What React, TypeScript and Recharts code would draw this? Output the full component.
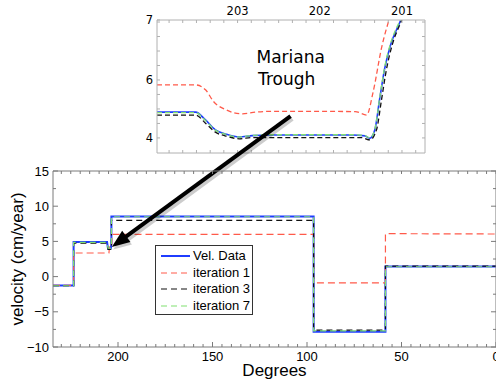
import { LineChart, Line, XAxis, YAxis, Legend, ReferenceLine, Label } from 'recharts'

const FONT = '"Liberation Sans", Arial, Helvetica, sans-serif'
const INSET_FONT = '"DejaVu Sans", "Liberation Sans", sans-serif'

// main panel: velocity profile along the track (degrees, read right to left)
const velPoints = [
  { deg: 234.4, v: -1.25 }, { deg: 223.5, v: -1.25 }, { deg: 223.5, v: 4.9 }, { deg: 205.8, v: 4.9 },
  { deg: 205.3, v: 4.0 }, { deg: 203.8, v: 4.0 }, { deg: 203.5, v: 4.6 }, { deg: 203.5, v: 8.55 },
  { deg: 96.5, v: 8.55 }, { deg: 96.5, v: -7.85 }, { deg: 58.5, v: -7.85 }, { deg: 58.5, v: 1.45 },
  { deg: 0, v: 1.45 },
]
const iter1Points = [
  { deg: 234.4, v: -1.25 }, { deg: 223.5, v: -1.25 }, { deg: 223.5, v: 3.35 }, { deg: 204.8, v: 3.35 },
  { deg: 204.5, v: 4.3 }, { deg: 203.3, v: 4.3 }, { deg: 203.3, v: 6.0 }, { deg: 96.5, v: 6.0 },
  { deg: 96.5, v: -0.9 }, { deg: 58.5, v: -0.9 }, { deg: 58.5, v: 6.1 }, { deg: 0, v: 6.05 },
]
const iter3Points = [
  { deg: 234.4, v: -1.3 }, { deg: 223.5, v: -1.3 }, { deg: 223.5, v: 4.75 }, { deg: 205.8, v: 4.75 },
  { deg: 205.3, v: 3.85 }, { deg: 203.8, v: 3.85 }, { deg: 203.5, v: 4.3 }, { deg: 203.5, v: 8.0 },
  { deg: 96.5, v: 8.0 }, { deg: 96.5, v: -7.6 }, { deg: 58.5, v: -7.6 }, { deg: 58.5, v: 1.5 },
  { deg: 0, v: 1.5 },
]
const iter7Points = [
  { deg: 234.4, v: -1.3 }, { deg: 223.5, v: -1.3 }, { deg: 223.5, v: 4.85 }, { deg: 205.8, v: 4.85 },
  { deg: 205.3, v: 4.05 }, { deg: 203.8, v: 4.05 }, { deg: 203.5, v: 4.5 }, { deg: 203.5, v: 8.5 },
  { deg: 96.5, v: 8.5 }, { deg: 96.5, v: -7.7 }, { deg: 58.5, v: -7.7 }, { deg: 58.5, v: 1.4 },
  { deg: 0, v: 1.4 },
]

// inset: Mariana Trough close-up
const insetVel = [
  { deg: 203.98, v: 4.89 }, { deg: 203.51, v: 4.89 }, { deg: 203.39, v: 4.62 }, { deg: 203.27, v: 4.28 },
  { deg: 203.14, v: 4.13 }, { deg: 202.98, v: 4.03 }, { deg: 202.82, v: 4.08 }, { deg: 202.6, v: 4.1 },
  { deg: 201.6, v: 4.1 }, { deg: 201.45, v: 4.07 }, { deg: 201.39, v: 3.99 }, { deg: 201.33, v: 4.28 },
  { deg: 201.27, v: 5.37 }, { deg: 201.21, v: 6.4 }, { deg: 201.14, v: 7.2 }, { deg: 201.04, v: 7.9 },
  { deg: 200.98, v: 8.3 },
]
const insetIter1 = [
  { deg: 203.98, v: 5.83 }, { deg: 203.51, v: 5.83 }, { deg: 203.39, v: 5.66 }, { deg: 203.29, v: 5.25 },
  { deg: 203.14, v: 4.97 }, { deg: 202.94, v: 4.83 }, { deg: 202.78, v: 4.89 }, { deg: 202.6, v: 4.92 },
  { deg: 201.57, v: 4.91 }, { deg: 201.43, v: 4.79 }, { deg: 201.35, v: 5.6 }, { deg: 201.25, v: 7.09 },
  { deg: 201.14, v: 8.24 }, { deg: 201.1, v: 8.6 },
]
const insetIter3 = [
  { deg: 203.98, v: 4.79 }, { deg: 203.51, v: 4.79 }, { deg: 203.39, v: 4.51 }, { deg: 203.27, v: 4.2 },
  { deg: 203.12, v: 4.05 }, { deg: 202.98, v: 3.97 }, { deg: 202.82, v: 4.01 }, { deg: 202.6, v: 4.01 },
  { deg: 201.49, v: 4.01 }, { deg: 201.39, v: 3.93 }, { deg: 201.31, v: 4.28 }, { deg: 201.25, v: 5.3 },
  { deg: 201.19, v: 6.35 }, { deg: 201.12, v: 7.2 }, { deg: 201.02, v: 7.95 }, { deg: 200.97, v: 8.3 },
]
const insetIter7 = [
  { deg: 203.98, v: 4.87 }, { deg: 203.51, v: 4.87 }, { deg: 203.39, v: 4.6 }, { deg: 203.27, v: 4.27 },
  { deg: 203.14, v: 4.12 }, { deg: 202.98, v: 4.03 }, { deg: 202.82, v: 4.09 }, { deg: 202.6, v: 4.11 },
  { deg: 201.6, v: 4.11 }, { deg: 201.45, v: 4.08 }, { deg: 201.39, v: 4.0 }, { deg: 201.33, v: 4.3 },
  { deg: 201.27, v: 5.4 }, { deg: 201.21, v: 6.45 }, { deg: 201.14, v: 7.25 }, { deg: 201.04, v: 7.95 },
  { deg: 200.98, v: 8.25 },
]

// ticks
const mainXLabels = [0, 50, 100, 150, 200]
const mainXTicks = [
  0, 5, 10, 15, 20, 25, 30, 35, 40, 45, 50, 55, 60, 65, 70, 75, 80, 85, 90, 95, 100, 105, 110, 115,
  120, 125, 130, 135, 140, 145, 150, 155, 160, 165, 170, 175, 180, 185, 190, 195, 200, 205, 210, 215,
  220, 225, 230,
]
const mainYLabels = [-10, -5, 0, 5, 10, 15]
const mainYTicks = [-10, -7.5, -5, -2.5, 0, 2.5, 5, 7.5, 10, 12.5, 15]
const insetXLabels = [203, 202, 201]
const insetXTicks = [
  200.833, 201, 201.167, 201.333, 201.5, 201.667, 201.833, 202, 202.167, 202.333, 202.5, 202.667,
  202.833, 203, 203.167, 203.333, 203.5, 203.667, 203.833,
]
const insetYLabels = [
  { v: 4, text: '4' },
  { v: 6, text: '6' },
  { v: 8.07, text: '7' },
]
const insetYTicks = [4, 4.5, 5, 5.5, 6, 6.5, 7, 7.5, 8]

const series = [
  { name: 'Vel. Data', color: '#1f3cff', width: 2, insetWidth: 1.6, dash: undefined, main: velPoints, inset: insetVel },
  { name: 'iteration 1', color: '#ff5a4a', width: 1.2, insetWidth: 1.3, dash: '7 4', main: iter1Points, inset: insetIter1 },
  { name: 'iteration 3', color: '#111111', width: 1.2, insetWidth: 1.3, dash: '6 4', main: iter3Points, inset: insetIter3 },
  { name: 'iteration 7', color: '#80e070', width: 1.2, insetWidth: 1.3, dash: '6 4', main: iter7Points, inset: insetIter7 },
]

const MAIN_FRAME = '#7a7a7a'
const INSET_FRAME = '#b0b0b0'

function FrameTick(props: any) {
  const { x, y, payload, side, labels, color, fontSize, fontFamily, majorLen, minorLen, gap, fmt } = props
  const v = payload.value
  const lab = labels.find((l: number) => Math.abs(l - v) < 1e-3)
  const len = lab !== undefined ? majorLen : minorLen
  let tick = null
  let text = null
  const txt = lab !== undefined ? fmt(lab) : null
  if (side === 'bottom') {
    tick = <line x1={x} x2={x} y1={y} y2={y - len} stroke={color} />
    if (txt !== null) text = <text x={x} y={y + gap} textAnchor="middle">{txt}</text>
  } else if (side === 'top') {
    tick = <line x1={x} x2={x} y1={y} y2={y + len} stroke={color} />
    if (txt !== null) text = <text x={x} y={y - gap} textAnchor="middle">{txt}</text>
  } else if (side === 'left') {
    tick = <line x1={x} x2={x + len} y1={y} y2={y} stroke={color} />
    if (txt !== null) text = <text x={x - gap} y={y + fontSize * 0.36} textAnchor="end">{txt}</text>
  } else {
    tick = <line x1={x} x2={x - len} y1={y} y2={y} stroke={color} />
  }
  return (
    <g fontFamily={fontFamily} fontSize={fontSize} fill="#000">
      {tick}
      {text}
    </g>
  )
}

function ArrowShape(props: any) {
  const { x1, y1, x2, y2 } = props
  const dx = x2 - x1
  const dy = y2 - y1
  const L = Math.hypot(dx, dy)
  const ux = dx / L
  const uy = dy / L
  const head = 18
  const half = 7
  const bx = x2 - ux * head
  const by = y2 - uy * head
  const pts = (ox: number, oy: number) =>
    `${x2 + ox},${y2 + oy} ${bx - uy * half + ox},${by + ux * half + oy} ${bx + uy * half + ox},${by - ux * half + oy}`
  return (
    <g>
      <line x1={x1 + 1.5} y1={y1 + 2.5} x2={bx + 1.5} y2={by + 2.5} stroke="rgba(0,0,0,0.2)" strokeWidth={5} />
      <polygon points={pts(1.5, 2.5)} fill="rgba(0,0,0,0.2)" />
      <line x1={x1} y1={y1} x2={bx + ux * 3} y2={by + uy * 3} stroke="#000" strokeWidth={4} />
      <polygon points={pts(0, 0)} fill="#000" />
    </g>
  )
}

function LegendBox() {
  return (
    <div
      style={{
        width: 98,
        height: 70,
        boxSizing: 'border-box',
        border: '1px solid #333',
        background: '#fff',
        paddingTop: 2,
        fontFamily: FONT,
        fontSize: 13,
        color: '#000',
      }}
    >
      {series.map(s => (
        <div key={s.name} style={{ display: 'flex', alignItems: 'center', height: 16.6, paddingLeft: 5 }}>
          <svg width={29} height={4} style={{ display: 'block' }}>
            <line x1={0} x2={29} y1={2} y2={2} stroke={s.color} strokeWidth={s.width} strokeDasharray={s.dash ? '6 4' : undefined} />
          </svg>
          <span style={{ marginLeft: 3, lineHeight: '14px', whiteSpace: 'nowrap' }}>{s.name}</span>
        </div>
      ))}
    </div>
  )
}

const mainTick = (side: string, labels: number[]) => (
  <FrameTick
    side={side}
    labels={labels}
    color={MAIN_FRAME}
    fontSize={13}
    fontFamily={FONT}
    majorLen={5}
    minorLen={3}
    gap={side === 'bottom' ? 14 : 4}
    fmt={(v: number) => (v < 0 ? `\u2212${Math.abs(v)}` : `${v}`)}
  />
)

const insetTick = (side: string, labels: number[], fmt: (v: number) => string) => (
  <FrameTick
    side={side}
    labels={labels}
    color={INSET_FRAME}
    fontSize={11.5}
    fontFamily={INSET_FONT}
    majorLen={3}
    minorLen={3}
    gap={side === 'top' ? 5 : 4}
    fmt={fmt}
  />
)

export default function App() {
  const insetYFmt = (v: number) => insetYLabels.find(l => Math.abs(l.v - v) < 1e-3)?.text ?? ''
  return (
    <div style={{ position: 'absolute', left: 0, top: 0, width: 496, height: 382, background: '#fff', overflow: 'hidden' }}>
      {/* inset */}
      <div style={{ position: 'absolute', left: 0, top: 0 }}>
        <LineChart width={496} height={382} margin={{ top: 19, right: 70, bottom: 228, left: 156 }}>
          <XAxis
            xAxisId="b"
            type="number"
            dataKey="deg"
            domain={[200.72, 203.98]}
            reversed
            allowDataOverflow
            ticks={insetXTicks}
            interval={0}
            height={1}
            axisLine={{ stroke: INSET_FRAME }}
            tickLine={false}
            tickSize={0}
            tickMargin={0}
            tick={insetTick('bottom', [], () => '')}
          />
          <XAxis
            xAxisId="t"
            orientation="top"
            type="number"
            dataKey="deg"
            domain={[200.72, 203.98]}
            reversed
            allowDataOverflow
            ticks={[...insetXTicks]}
            interval={0}
            height={1}
            axisLine={{ stroke: INSET_FRAME }}
            tickLine={false}
            tickSize={0}
            tickMargin={0}
            tick={insetTick('top', insetXLabels, v => `${Math.round(v)}`)}
          />
          <YAxis
            yAxisId="l"
            type="number"
            domain={[3.48, 8.07]}
            allowDataOverflow
            ticks={[...insetYTicks, 8.07]}
            interval={0}
            width={1}
            axisLine={{ stroke: INSET_FRAME }}
            tickLine={false}
            tickSize={0}
            tickMargin={0}
            tick={insetTick('left', insetYLabels.map(l => l.v), insetYFmt)}
          />
          <YAxis
            yAxisId="r"
            orientation="right"
            type="number"
            domain={[3.48, 8.07]}
            allowDataOverflow
            ticks={insetYTicks}
            interval={0}
            width={1}
            axisLine={{ stroke: INSET_FRAME }}
            tickLine={false}
            tickSize={0}
            tickMargin={0}
            tick={insetTick('right', [], () => '')}
          />
          {series.map(s => (
            <Line
              key={s.name}
              xAxisId="b"
              yAxisId="l"
              data={s.inset}
              dataKey="v"
              type="monotone"
              stroke={s.color}
              strokeWidth={s.insetWidth}
              strokeDasharray={s.dash ? '5 3' : undefined}
              dot={false}
              activeDot={false}
              isAnimationActive={false}
            />
          ))}
          <text x={256.5} y={62.5} fontFamily={INSET_FONT} fontSize={17} fill="#000">Mariana</text>
          <text x={258} y={85} fontFamily={INSET_FONT} fontSize={17} fill="#000">Trough</text>
        </LineChart>
      </div>

      {/* main panel */}
      <div style={{ position: 'absolute', left: 0, top: 0 }}>
        <LineChart width={497} height={382} margin={{ top: 170, right: 0, bottom: 0, left: 23 }}>
          <XAxis
            xAxisId="b"
            type="number"
            dataKey="deg"
            domain={[0, 234.4]}
            reversed
            allowDataOverflow
            ticks={mainXTicks}
            interval={0}
            height={35}
            axisLine={{ stroke: MAIN_FRAME }}
            tickLine={false}
            tickSize={0}
            tickMargin={0}
            tick={mainTick('bottom', mainXLabels)}
          >
            <Label value="Degrees" position="insideBottom" offset={6} style={{ fontFamily: FONT, fontSize: 17, fill: '#000' }} />
          </XAxis>
          <XAxis
            xAxisId="t"
            orientation="top"
            type="number"
            dataKey="deg"
            domain={[0, 234.4]}
            reversed
            allowDataOverflow
            ticks={[...mainXTicks]}
            interval={0}
            height={1}
            axisLine={{ stroke: MAIN_FRAME }}
            tickLine={false}
            tickSize={0}
            tickMargin={0}
            tick={mainTick('top', [])}
          />
          <YAxis
            yAxisId="l"
            type="number"
            domain={[-10, 15]}
            allowDataOverflow
            ticks={mainYTicks}
            interval={0}
            width={30}
            axisLine={{ stroke: MAIN_FRAME }}
            tickLine={false}
            tickSize={0}
            tickMargin={0}
            tick={mainTick('left', mainYLabels)}
          >
            <Label
              value="velocity (cm/year)"
              angle={-90}
              position="center"
              dx={-21}
              style={{ fontFamily: FONT, fontSize: 17, fill: '#000', textAnchor: 'middle' }}
            />
          </YAxis>
          <YAxis
            yAxisId="r"
            orientation="right"
            type="number"
            domain={[-10, 15]}
            allowDataOverflow
            ticks={[...mainYTicks]}
            interval={0}
            width={1}
            axisLine={{ stroke: MAIN_FRAME }}
            tickLine={false}
            tickSize={0}
            tickMargin={0}
            tick={mainTick('right', mainYLabels)}
          />
          {series.map(s => (
            <Line
              key={s.name}
              name={s.name}
              xAxisId="b"
              yAxisId="l"
              data={s.main}
              dataKey="v"
              type="linear"
              stroke={s.color}
              strokeWidth={s.width}
              strokeDasharray={s.dash}
              dot={false}
              activeDot={false}
              isAnimationActive={false}
            />
          ))}
          <ReferenceLine
            xAxisId="b"
            yAxisId="l"
            segment={[{ x: 108.7, y: 22.8 }, { x: 203.3, y: 4.2 }]}
            ifOverflow="visible"
            shape={ArrowShape}
          />
          <Legend
            layout="vertical"
            verticalAlign="middle"
            align="center"
            wrapperStyle={{ left: 155, top: 245, width: 98, height: 70 }}
            content={() => <LegendBox />}
          />
        </LineChart>
      </div>
    </div>
  )
}
